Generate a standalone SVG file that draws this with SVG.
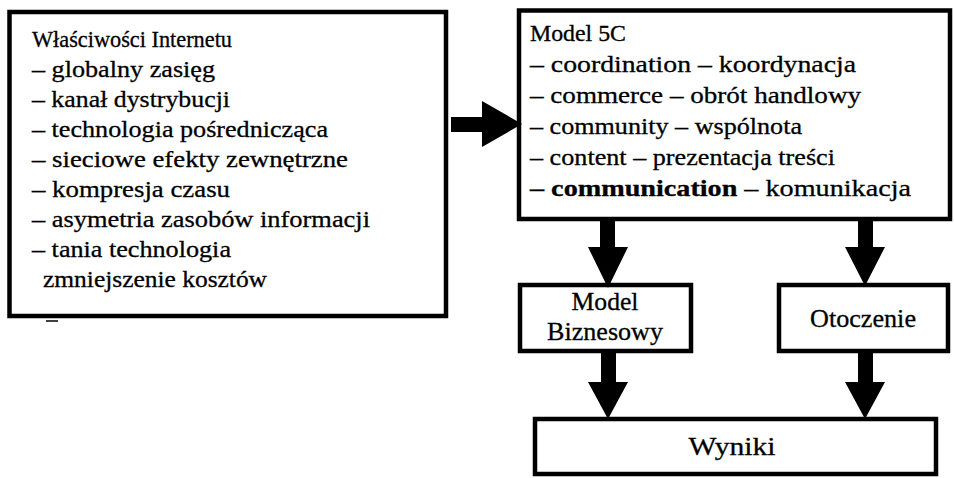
<svg xmlns="http://www.w3.org/2000/svg" width="954" height="478" viewBox="0 0 954 478">
<style>
.box{fill:#fff;stroke:#000;stroke-width:4.5}
.t{font-family:"Liberation Serif","Times New Roman",serif;font-size:24px;fill:#000;stroke:#000;stroke-width:0.3}
.h{font-size:23px}
.s{font-size:26px}
.c{text-anchor:middle}
.b{font-weight:bold}
.arr{fill:#000;stroke:none}
</style>
<rect width="954" height="478" fill="#fff"/>
<g id="wlasciwosci">
<rect class="box" x="9.5" y="12" width="436.5" height="304"/>
<text class="t h" x="32" y="47" textLength="200" lengthAdjust="spacingAndGlyphs">Właściwości Internetu</text>
<text class="t" x="32" y="77" textLength="183" lengthAdjust="spacingAndGlyphs">– globalny zasięg</text>
<text class="t" x="32" y="107" textLength="198" lengthAdjust="spacingAndGlyphs">– kanał dystrybucji</text>
<text class="t" x="32" y="137" textLength="296" lengthAdjust="spacingAndGlyphs">– technologia pośrednicząca</text>
<text class="t" x="32" y="167" textLength="316" lengthAdjust="spacingAndGlyphs">– sieciowe efekty zewnętrzne</text>
<text class="t" x="32" y="197" textLength="198" lengthAdjust="spacingAndGlyphs">– kompresja czasu</text>
<text class="t" x="32" y="227" textLength="338" lengthAdjust="spacingAndGlyphs">– asymetria zasobów informacji</text>
<text class="t" x="32" y="257" textLength="199" lengthAdjust="spacingAndGlyphs">– tania technologia</text>
<text class="t" x="43" y="287" textLength="224" lengthAdjust="spacingAndGlyphs">zmniejszenie kosztów</text>
<line x1="46" y1="321" x2="58" y2="321" stroke="#000" stroke-width="1.5"/>
</g>
<g id="model5c">
<rect class="box" x="519" y="10.5" width="431" height="208.5"/>
<text class="t h" x="530" y="41" textLength="96" lengthAdjust="spacingAndGlyphs">Model 5C</text>
<text class="t" x="530" y="72" textLength="326" lengthAdjust="spacingAndGlyphs">– coordination – koordynacja</text>
<text class="t" x="530" y="103" textLength="331" lengthAdjust="spacingAndGlyphs">– commerce – obrót handlowy</text>
<text class="t" x="530" y="134" textLength="272" lengthAdjust="spacingAndGlyphs">– community – wspólnota</text>
<text class="t" x="530" y="165" textLength="305" lengthAdjust="spacingAndGlyphs">– content – prezentacja treści</text>
<text class="t" x="530" y="196" textLength="381" lengthAdjust="spacingAndGlyphs"><tspan class="b">– communication</tspan> – komunikacja</text>
</g>
<g id="modelBiznesowy">
<rect class="box" x="520" y="285" width="171" height="66"/>
<text class="t s c" x="605" y="310" textLength="67" lengthAdjust="spacingAndGlyphs">Model</text>
<text class="t s c" x="605" y="340" textLength="116" lengthAdjust="spacingAndGlyphs">Biznesowy</text>
</g>
<g id="otoczenie">
<rect class="box" x="779" y="285" width="169" height="66"/>
<text class="t s c" x="863" y="327" textLength="106" lengthAdjust="spacingAndGlyphs">Otoczenie</text>
</g>
<g id="wyniki">
<rect class="box" x="535" y="419" width="401" height="55"/>
<text class="t s c" x="732" y="455" textLength="87" lengthAdjust="spacingAndGlyphs">Wyniki</text>
</g>
<g id="connectors">
<path class="arr" d="M451,117 H482 V101 L522,124 L482,147 V132 H451 Z"/>
<path class="arr" d="M600,221 H615 V247 H628 L608,288 L588,247 H600 Z"/>
<path class="arr" d="M858,221 H873 V247 H885 L865,286 L845,247 H858 Z"/>
<path class="arr" d="M601,353 H616 V382 H628 L608,419 L588,382 H601 Z"/>
<path class="arr" d="M858,353 H873 V382 H885 L865,419 L845,382 H858 Z"/>
</g>
</svg>
